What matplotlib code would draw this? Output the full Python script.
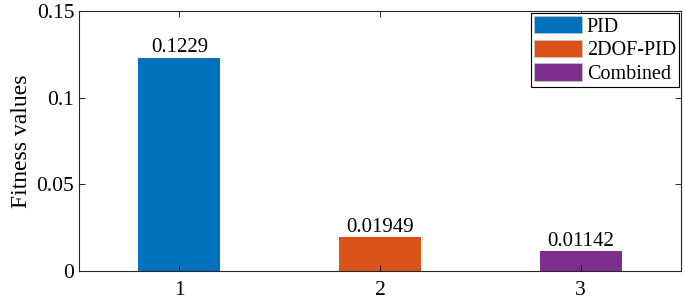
import matplotlib.pyplot as plt
from matplotlib.patches import Patch

plt.rcParams['font.family'] = ['Liberation Serif', 'DejaVu Serif']

categories = [1, 2, 3]
values = [0.1229, 0.01949, 0.01142]
labels = ["0.1229", "0.01949", "0.01142"]
names = ["PID", "2DOF-PID", "Combined"]
colors = ["#0072BD", "#D95319", "#7E2F8E"]

fig = plt.figure(figsize=(6.85, 3.0), dpi=100)
ax = fig.add_axes([79 / 685, 29 / 300, 602 / 685, 260 / 300])

bars = ax.bar(categories, values, width=0.41, color=colors)
for x, v, t in zip(categories, values, labels):
    ax.text(x, v + 0.0003, t, ha='center', va='bottom', fontsize=15)

ax.set_xlim(0.5, 3.5)
ax.set_ylim(0, 0.15)
ax.set_xticks(categories)
ax.set_xticklabels([str(c) for c in categories])
ax.set_yticks([0, 0.05, 0.1, 0.15])
ax.set_yticklabels(["0", "0.05", "0.1", "0.15"])
ax.set_ylabel("Fitness values", fontsize=17, labelpad=3)
ax.tick_params(direction='in', top=True, right=True, labelsize=15.5, length=4, width=0.6)
ax.tick_params(axis='x', pad=7.5)
for s in ax.spines.values():
    s.set_linewidth(0.8)
    s.set_color('#262626')

handles = [Patch(facecolor=c, edgecolor='#c8c8c8', linewidth=0.5) for c in colors]
leg = ax.legend(handles, names, loc='upper right', bbox_to_anchor=(1.0, 1.0),
                fontsize=14.5, fancybox=False, framealpha=1, edgecolor='black',
                handlelength=2.35, handleheight=0.95, handletextpad=0.25,
                borderpad=0.15, labelspacing=0.15, borderaxespad=0.1)
leg.get_frame().set_linewidth(0.8)

fig.savefig("out.png", dpi=100)
